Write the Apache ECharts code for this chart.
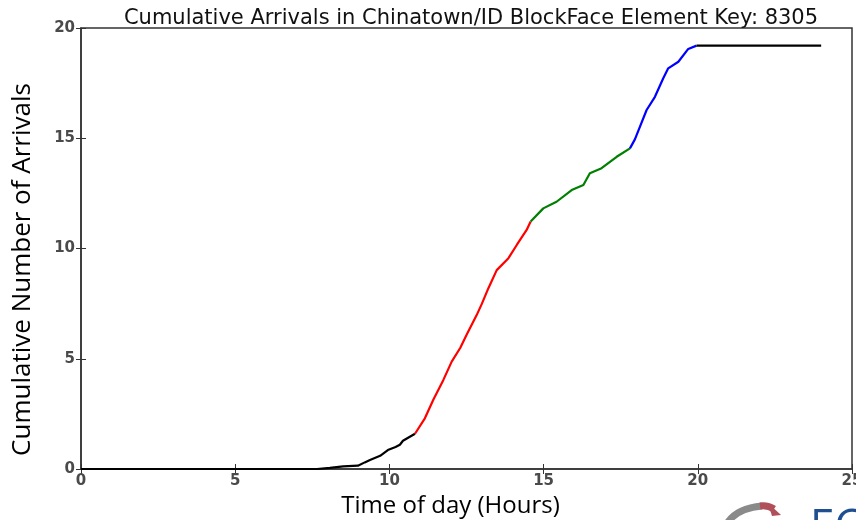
<!DOCTYPE html>
<html>
<head>
<meta charset="utf-8">
<script src="https://cdn.jsdelivr.net/npm/echarts@6/dist/echarts.min.js"></script>
<style>
  html, body { margin: 0; padding: 0; background: #fff; }
  #chart { width: 856px; height: 520px; }
</style>
</head>
<body>
<div id="chart"></div>
<script>
// hours of day / cumulative arrivals, one pair of arrays per coloured stretch
const earlyHours  = [0, 7.65, 8.07, 8.5, 8.98, 9.2, 9.37, 9.7, 9.95, 10.2, 10.34, 10.44, 10.83];
const earlyCounts = [0, 0, 0.05, 0.12, 0.15, 0.3, 0.41, 0.6, 0.86, 1.0, 1.1, 1.28, 1.6];

const morningHours  = [10.83, 11.15, 11.42, 11.75, 12.02, 12.3, 12.5, 12.83, 13.0, 13.21, 13.48, 13.86, 14.13, 14.45, 14.58];
const morningCounts = [1.6, 2.3, 3.13, 4.04, 4.87, 5.5, 6.08, 6.98, 7.5, 8.2, 9.02, 9.56, 10.16, 10.84, 11.22];

const afternoonHours  = [14.58, 14.99, 15.32, 15.42, 15.91, 16.29, 16.5, 16.88, 17.37, 17.8];
const afternoonCounts = [11.22, 11.82, 12.05, 12.12, 12.65, 12.88, 13.41, 13.64, 14.16, 14.54];

const eveningHours  = [17.8, 17.96, 18.34, 18.61, 18.88, 19.04, 19.37, 19.69, 19.96];
const eveningCounts = [14.54, 14.95, 16.28, 16.88, 17.72, 18.17, 18.47, 19.05, 19.2];

const lateHours  = [19.96, 24];
const lateCounts = [19.2, 19.2];

const xTicks = [0, 5, 10, 15, 20, 25];
const yTicks = [0, 5, 10, 15, 20];

const pairs = (xs, ys) => xs.map((x, i) => [x, ys[i]]);

const line = (xs, ys, color) => ({
    type: 'line',
    data: pairs(xs, ys),
    showSymbol: false,
    symbol: 'none',
    silent: true,
    lineStyle: { color: color, width: 2.2 },
    animation: false
});

const tickFont = { fontFamily: 'DejaVu Sans', fontSize: 15, fontWeight: 'bold', color: '#4a4a4a' };

const chart = echarts.init(document.getElementById('chart'), null, { renderer: 'canvas' });

chart.setOption({
    animation: false,
    backgroundColor: '#fff',
    title: {
        text: 'Cumulative Arrivals in Chinatown/ID BlockFace Element Key: 8305',
        left: 466,
        textAlign: 'center',
        top: 3,
        textStyle: { fontFamily: 'DejaVu Sans', fontSize: 21, fontWeight: 'normal', color: '#111' }
    },
    grid: {
        left: 81, right: 4, top: 28, bottom: 51,
        outerBoundsMode: 'none',
        containLabel: false,
        show: true, borderColor: '#333', borderWidth: 1.5
    },
    xAxis: [{
        type: 'value',
        min: xTicks[0], max: xTicks[xTicks.length - 1], interval: 5,
        name: 'Time of day (Hours)',
        nameLocation: 'middle',
        nameGap: 25,
        nameTextStyle: { fontFamily: 'Open Sans', fontSize: 24, color: '#000', padding: [0, 32, 0, 0] },
        axisLine: { show: true, lineStyle: { color: '#333', width: 1.5 } },
        axisTick: { show: true, inside: true, length: 5, lineStyle: { color: '#333' } },
        axisLabel: Object.assign({ margin: 5 }, tickFont),
        splitLine: { show: false }
    }, {
        type: 'value', position: 'top',
        min: xTicks[0], max: xTicks[xTicks.length - 1], interval: 5,
        axisLine: { show: false },
        axisTick: { show: true, inside: true, length: 5, lineStyle: { color: '#333' } },
        axisLabel: { show: false },
        splitLine: { show: false }
    }],
    yAxis: [{
        type: 'value',
        min: yTicks[0], max: yTicks[yTicks.length - 1], interval: 5,
        name: 'Cumulative Number of Arrivals',
        nameLocation: 'middle',
        nameRotate: 90,
        nameGap: 45,
        nameTextStyle: { fontFamily: 'Open Sans', fontSize: 26, color: '#000', padding: [0, 42, 0, 0] },
        axisLine: { show: true, lineStyle: { color: '#333', width: 1.5 } },
        axisTick: { show: true, inside: true, length: 5, lineStyle: { color: '#333' } },
        axisLabel: Object.assign({ margin: 6 }, tickFont),
        splitLine: { show: false }
    }, {
        type: 'value', position: 'right',
        min: yTicks[0], max: yTicks[yTicks.length - 1], interval: 5,
        axisLine: { show: false },
        axisTick: { show: true, inside: true, length: 5, lineStyle: { color: '#333' } },
        axisLabel: { show: false },
        splitLine: { show: false }
    }],
    series: [
        line(earlyHours, earlyCounts, '#000000'),
        line(morningHours, morningCounts, '#ff0000'),
        line(afternoonHours, afternoonCounts, '#008000'),
        line(eveningHours, eveningCounts, '#0000ff'),
        line(lateHours, lateCounts, '#000000')
    ],
    // logo fragment cut off at the bottom right corner
    graphic: [
        {
            type: 'bezierCurve', silent: true,
            shape: { x1: 728, y1: 522, cpx1: 738, cpy1: 508, x2: 762, y2: 506 },
            style: { stroke: '#8a8a8a', lineWidth: 7, fill: null }
        },
        {
            type: 'bezierCurve', silent: true,
            shape: { x1: 760, y1: 506, cpx1: 768, cpy1: 505, x2: 774, y2: 509 },
            style: { stroke: '#b0505a', lineWidth: 7, fill: null }
        },
        {
            type: 'polygon', silent: true,
            shape: { points: [[768, 503], [781, 515], [772, 516]] },
            style: { fill: '#b0505a' }
        },
        {
            type: 'text', silent: true, left: 810, top: 505,
            style: { text: 'EC', fontFamily: 'Open Sans', fontSize: 44, fill: '#1d4f91' }
        }
    ]
});
</script>
</body>
</html>
